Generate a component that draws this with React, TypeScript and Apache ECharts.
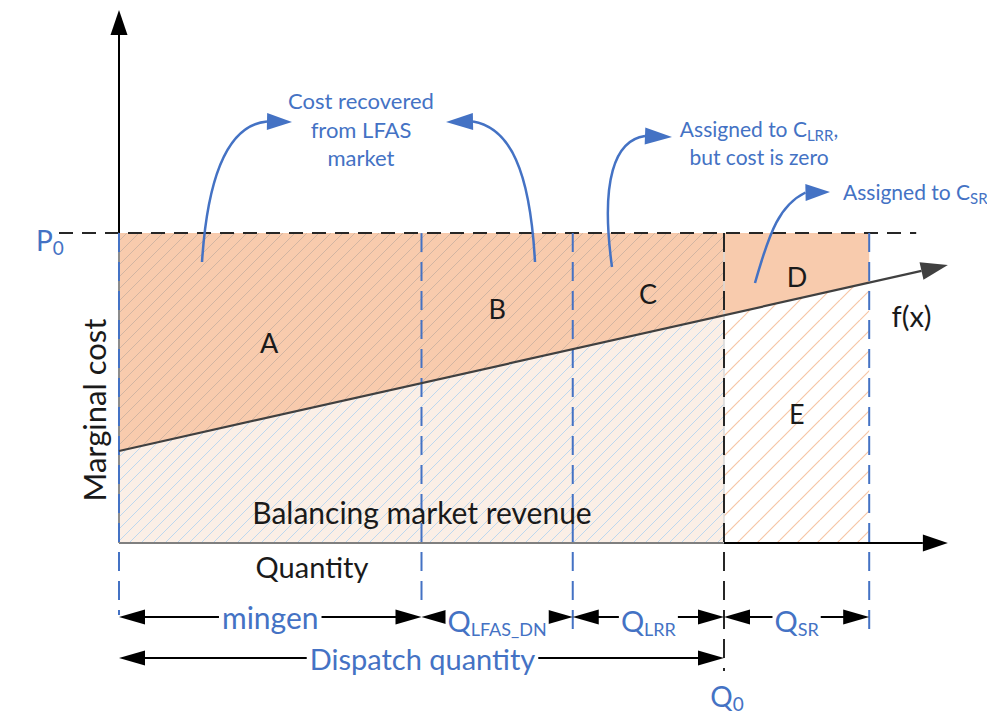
import React, { useEffect, useRef } from "react";
import * as echarts from "echarts";

// ---------- data ----------
// quantity boundaries: origin, mingen, +Q_LFAS_DN, Q0, +Q_SR
const boundaryQ = [0, 10, 15, 20, 24.8];
const priceP0 = 10;
// marginal cost curve f(x): sample points (last one = arrow tip)
const costCurveQ = [0, 10, 15, 20, 24.8, 27.4];
const costCurveP = [2.97, 5.15, 6.25, 7.35, 8.39, 8.97];
const areaNames = ["A", "B", "C", "D", "E"];
const segmentLabels = ["mingen", "Q|LFAS_DN", "Q|LRR", "Q|SR"];
const axisMaxQ = 28;
const axisMaxP = 17.2;

const BLUE = "#4472c4";
const ORANGE = "#f8cbad";
const LIGHT = "#fbefe6";
const FONT = "Lato, 'Open Sans', sans-serif";

function makeHatch(size: number, color: string, width: number) {
  const cv = document.createElement("canvas");
  cv.width = size;
  cv.height = size;
  const g = cv.getContext("2d")!;
  g.strokeStyle = color;
  g.lineWidth = width;
  g.beginPath();
  for (const k of [-size, 0, size]) {
    g.moveTo(k, size);
    g.lineTo(k + size, 0);
  }
  g.stroke();
  return { image: cv, repeat: "repeat", imageWidth: size, imageHeight: size } as any;
}

export default function App() {
  const ref = useRef<HTMLDivElement>(null);
  useEffect(() => {
    if (!ref.current) return;
    const chart = echarts.init(ref.current, undefined, { renderer: "svg" });
    const hatchGray = makeHatch(12, "rgba(140,140,140,0.35)", 1);
    const hatchBlue = makeHatch(12, "rgba(180,212,240,0.85)", 1);
    const hatchOrange = makeHatch(20, "rgba(245,188,150,0.85)", 1.2);

    const renderItem = (params: any, api: any) => {
      const c = (q: number, p: number) => api.coord([q, p]) as number[];
      const [ox, oy] = c(0, 0);
      // layout helper: pixel offset from the origin
      const L = (x: number, y: number) => [ox + x, oy + y];
      const f = (i: number) => c(costCurveQ[i], costCurveP[i]);
      const bx = (i: number) => c(boundaryQ[i], 0)[0];
      const yP0 = c(0, priceP0)[1];
      const ch: any[] = [];

      const line = (a: number[], b: number[], color: string, w: number, dash?: number[]) => ({
        type: "line",
        shape: { x1: a[0], y1: a[1], x2: b[0], y2: b[1] },
        style: { stroke: color, lineWidth: w, lineDash: dash, fill: null },
      });
      const head = (tip: number[], base: number[], hw: number, color: string) => {
        const dx = tip[0] - base[0], dy = tip[1] - base[1];
        const d = Math.hypot(dx, dy);
        const ux = dx / d, uy = dy / d;
        return {
          type: "polygon",
          shape: { points: [tip, [base[0] - uy * hw, base[1] + ux * hw], [base[0] + uy * hw, base[1] - ux * hw]] },
          style: { fill: color, stroke: null },
        };
      };
      const poly = (pts: number[][], fill: any) => ({ type: "polygon", shape: { points: pts }, style: { fill, stroke: null } });
      const text = (t: string, x: number, y: number, o: any = {}) => ({
        type: "text",
        x,
        y,
        rotation: o.rotation || 0,
        style: {
          text: t,
          x: 0,
          y: 0,
          fill: o.fill || "#1a1a1a",
          fontSize: o.size || 22,
          fontFamily: FONT,
          align: o.align || "center",
          verticalAlign: "middle",
          lineHeight: o.lh,
          backgroundColor: o.bg,
          padding: o.pad,
          rich: o.rich,
        },
      });
      const subRich = (size: number, sub: number, color: string) => ({
        m: { fontSize: size, fontFamily: FONT, fill: color, lineHeight: size + 6 },
        s: { fontSize: sub, fontFamily: FONT, fill: color, lineHeight: sub, verticalAlign: "bottom" },
      });

      const upper = [c(0, priceP0), c(boundaryQ[3], priceP0), f(3), f(2), f(1), f(0)];
      const lower = [c(0, 0), c(boundaryQ[3], 0), f(3), f(2), f(1), f(0)];
      const dArea = [c(boundaryQ[3], priceP0), c(boundaryQ[4], priceP0), f(4), f(3)];
      const eArea = [c(boundaryQ[3], 0), c(boundaryQ[4], 0), f(4), f(3)];

      ch.push(poly(lower, LIGHT), poly(lower, hatchBlue));
      ch.push(poly(upper, ORANGE), poly(upper, hatchGray));
      ch.push(poly(dArea, ORANGE));
      ch.push(poly(eArea, "#ffffff"), poly(eArea, hatchOrange));

      // region edges
      ch.push(line(c(0, 0), c(boundaryQ[3], 0), "#7f7f7f", 2));
      ch.push(line(c(0, 0), c(0, priceP0), "#8c8c8c", 2));
      ch.push(line([bx(3), yP0], [bx(3), oy], "#d9d9d9", 1.5));

      // y axis
      const yTip = c(0, axisMaxP);
      const yBase = [yTip[0], yTip[1] + 25];
      ch.push(line(c(0, priceP0), yBase, "#000", 2), head(yTip, yBase, 8.5, "#000"));
      // x axis (beyond Q0)
      const xTip = c(costCurveQ[5], 0);
      const xBase = [xTip[0] - 25, xTip[1]];
      ch.push(line(c(boundaryQ[3], 0), xBase, "#000", 2), head(xTip, xBase, 8.5, "#000"));

      // P0 dashed line
      ch.push(line([ox - 60, yP0], [bx(4) + 47, yP0], "#262626", 2, [14, 9]));

      // vertical dashed lines
      const vEnds = [72, 66, 94, 128, 94];
      for (let i = 0; i < boundaryQ.length; i++) {
        const col = i === 3 ? "#262626" : BLUE;
        ch.push(line([bx(i), yP0], [bx(i), oy + vEnds[i]], col, 2, [19, 10]));
      }

      // f(x) line with arrow
      const fTip = f(5);
      const f0 = f(0);
      const dx = fTip[0] - f0[0], dy = fTip[1] - f0[1];
      const dl = Math.hypot(dx, dy);
      const fBase = [fTip[0] - (dx / dl) * 27, fTip[1] - (dy / dl) * 27];
      ch.push(line(f0, fBase, "#404040", 2.2), head(fTip, fBase, 9, "#404040"));

      // bottom dimension arrows
      const row1 = oy + 74;
      const row2 = oy + 115;
      const dim = (x1: number, x2: number, y: number) => {
        ch.push(line([x1 + 20, y], [x2 - 20, y], "#000", 2));
        ch.push(head([x1, y], [x1 + 26, y], 7.5, "#000"));
        ch.push(head([x2, y], [x2 - 26, y], 7.5, "#000"));
      };
      for (let i = 0; i < 4; i++) dim(bx(i), bx(i + 1), row1);
      dim(bx(0), bx(3), row2);

      // curved blue arrows
      const curves = [
        [[202, 262], [208, 170], [230, 125], [267, 121.5], [292, 122]],
        [[535, 262], [530, 170], [510, 128], [473, 121.5], [446, 122]],
        [[612, 267], [600, 180], [615, 140], [645, 136], [672, 137]],
        [[755, 283], [770, 230], [780, 205], [805.5, 192.5], [830, 192]],
      ];
      for (const cv of curves) {
        const p = cv.map((pt) => L(pt[0] - 119, pt[1] - 543));
        ch.push({
          type: "bezierCurve",
          shape: { x1: p[0][0], y1: p[0][1], cpx1: p[1][0], cpy1: p[1][1], cpx2: p[2][0], cpy2: p[2][1], x2: p[3][0], y2: p[3][1] },
          style: { stroke: BLUE, lineWidth: 2.5, fill: null },
        });
        ch.push(head(p[4], p[3], 8.5, BLUE));
      }

      // area letters
      const letterPos = [
        [4.96, 6.48],
        [12.5, 7.58],
        [17.49, 8.06],
        [22.41, 8.61],
        [22.41, 4.19],
      ];
      areaNames.forEach((n, i) => {
        const p = c(letterPos[i][0], letterPos[i][1]);
        ch.push(text(n, p[0], p[1], { size: 27 }));
      });
      const fx = c(26.2, 7.35);
      ch.push(text("f(x)", fx[0], fx[1], { size: 29 }));

      ch.push(text("Balancing market revenue", (ox + bx(3)) / 2 + 0.5, oy - 31, { size: 30 }));
      ch.push(text("Quantity", ox + 193, oy + 23, { size: 29 }));
      ch.push(text("Marginal cost", ox - 25, oy - 133, { size: 31, rotation: Math.PI / 2 }));

      // P0 label
      ch.push(text("{m|P}{s|0}", ox - 83, yP0 + 7, { align: "left", rich: subRich(28, 19, BLUE) }));

      // annotations
      const subS = { s: { fontSize: 15, fontFamily: FONT, fill: BLUE, lineHeight: 15, verticalAlign: "bottom" } };
      ch.push(text("Cost recovered\nfrom LFAS\nmarket", ox + 242, oy - 414, { size: 22, fill: BLUE, lh: 28.5 }));
      ch.push(text("Assigned to C{s|LRR},\nbut cost is zero", ox + 640, oy - 401, { size: 21, fill: BLUE, lh: 28, rich: subS }));
      ch.push(text("Assigned to C{s|SR}", ox + 724, oy - 352, { size: 21, fill: BLUE, align: "left", lh: 28, rich: subS }));

      // segment labels
      segmentLabels.forEach((s, i) => {
        const cx = (bx(i) + bx(i + 1)) / 2;
        const parts = s.split("|");
        if (parts.length === 1) {
          ch.push(text(s, cx, row1, { size: 30, fill: BLUE, bg: "#fff", pad: [0, 3] }));
        } else {
          ch.push(
            text(`{m|${parts[0]}}{s|${parts[1]}}`, cx, row1 + 3, {
              rich: subRich(29, 18, BLUE),
              bg: "#fff",
              pad: [0, 2],
            })
          );
        }
      });
      ch.push(text("Dispatch quantity", (bx(0) + bx(3)) / 2 + 1, row2, { size: 29, fill: BLUE, bg: "#fff", pad: [0, 3] }));
      ch.push(text("{m|Q}{s|0}", bx(3) + 3, oy + 153, { rich: subRich(28, 19, BLUE) }));

      return { type: "group", children: ch };
    };

    chart.setOption({
      animation: false,
      backgroundColor: "#ffffff",
      grid: { left: 119, right: 21, top: 10, bottom: 172 },
      xAxis: { type: "value", min: 0, max: axisMaxQ, show: false },
      yAxis: { type: "value", min: 0, max: axisMaxP, show: false },
      series: [
        {
          type: "custom",
          coordinateSystem: "cartesian2d",
          data: [[0, 0]],
          renderItem,
          clip: false,
          silent: true,
        },
      ],
    });
    return () => chart.dispose();
  }, []);
  return <div ref={ref} style={{ position: "absolute", left: 0, top: 0, width: 987, height: 715 }} />;
}
